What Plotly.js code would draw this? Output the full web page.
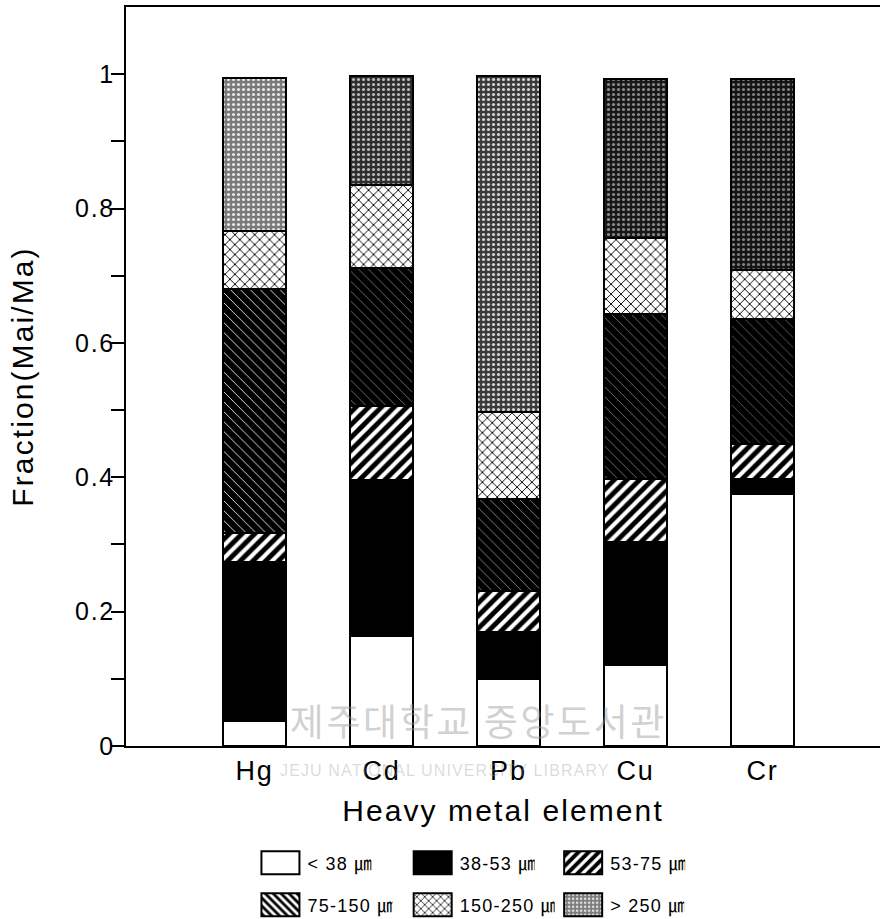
<!DOCTYPE html>
<html>
<head>
<meta charset="utf-8">
<script src="https://cdn.plot.ly/plotly-3.0.1.min.js"></script>
<style>
  html, body { margin: 0; padding: 0; background: #fff; }
  #chart { width: 880px; height: 919px; }
  #chart .main-svg text { letter-spacing: 0.07em; }
</style>
</head>
<body>
<div id="chart"></div>
<script>
// Heavy metal fractions by particle size class (each column sums to ~1)
const elements = ['Hg', 'Cd', 'Pb', 'Cu', 'Cr'];
const under38   = [0.037, 0.163, 0.100, 0.121, 0.375];
const s38to53   = [0.237, 0.233, 0.070, 0.183, 0.023];
const s53to75   = [0.043, 0.110, 0.060, 0.094, 0.052];
const s75to150  = [0.363, 0.206, 0.138, 0.245, 0.186];
const s150to250 = [0.087, 0.123, 0.129, 0.113, 0.072];
const over250   = [0.228, 0.163, 0.501, 0.237, 0.285];

const sizeLabels = ['< 38 ㎛', '38-53 ㎛', '53-75 ㎛', '75-150 ㎛', '150-250 ㎛', '> 250 ㎛'];
const yTicks = [0, 0.2, 0.4, 0.6, 0.8, 1];
const yMinorTicks = [0.1, 0.3, 0.5, 0.7, 0.9];
const yTickText = ['0', '0.2', '0.4', '0.6', '0.8', '1'];

const FONT = 'Liberation Sans, Arial, Helvetica, Noto Sans CJK KR, sans-serif';
const outline = { color: '#000', width: 2 };

function seg(values, name, legendId, marker) {
  return {
    type: 'bar', x: elements, y: values, name: name, legend: legendId,
    marker: Object.assign({ line: outline }, marker),
    hoverinfo: 'x+y+name'
  };
}

const traces = [
  seg(under38, sizeLabels[0], 'legend', { color: '#fff' }),
  seg(s38to53, sizeLabels[1], 'legend2', { color: '#000' }),
  seg(s53to75, sizeLabels[2], 'legend3', {
    color: '#000',
    pattern: { shape: '/', bgcolor: '#000', fgcolor: '#fff', size: 9, solidity: 0.45 }
  }),
  seg(s75to150, sizeLabels[3], 'legend4', {
    color: '#000',
    pattern: { shape: '\\', bgcolor: '#000', fgcolor: '#fff', size: 7,
               solidity: [0.12, 0.06, 0.07, 0.06, 0.05] }
  }),
  seg(s150to250, sizeLabels[4], 'legend5', {
    color: '#fff',
    pattern: { shape: 'x', bgcolor: '#fff', fgcolor: '#000', size: 7, solidity: 0.25 }
  }),
  seg(over250, sizeLabels[5], 'legend6', {
    color: '#444',
    pattern: { shape: '.', bgcolor: ['#7a7a7a', '#2e2e2e', '#3c3c3c', '#181818', '#141414'],
               fgcolor: ['#e8e8e8', '#bbbbbb', '#d6d6d6', '#8a8a8a', '#808080'],
               size: 5, solidity: 0.3 }
  })
];

// Legend boxes: two rows of three entries, placed on the page (container units)
function legendAt(x, y) {
  return {
    xref: 'container', yref: 'container',
    x: x, y: y, xanchor: 'left', yanchor: 'middle',
    orientation: 'h', itemwidth: 44, bgcolor: 'rgba(0,0,0,0)', borderwidth: 0,
    font: { family: FONT, size: 18, color: '#000' }, itemclick: false, itemdoubleclick: false
  };
}
const colX = [0.288, 0.461, 0.632];
const rowY = [0.0609, 0.0152];

const layout = {
  width: 880, height: 919,
  margin: { l: 126, r: 0, t: 7, b: 173 },
  paper_bgcolor: '#fff', plot_bgcolor: '#fff',
  barmode: 'stack', bargap: 0.5,
  font: { family: FONT, color: '#000' },
  showlegend: true,
  xaxis: {
    type: 'category', range: [-1.012, 4.925], fixedrange: true,
    showline: true, linecolor: '#000', linewidth: 2, mirror: true,
    ticks: '', showgrid: false, zeroline: false,
    tickfont: { family: FONT, size: 27, color: '#000' },
    title: { text: 'Heavy metal element', font: { family: FONT, size: 30, color: '#000' }, standoff: 15 }
  },
  xaxis2: {
    overlaying: 'x', anchor: 'y', type: 'linear', range: [-1.012, 4.925], fixedrange: true,
    tickmode: 'array', tickvals: [-1.012, 0.5, 1.5, 2.5, 3.5],
    ticks: 'outside', ticklen: 12, tickwidth: 2, tickcolor: '#000',
    showticklabels: false, showline: false, showgrid: false, zeroline: false
  },
  yaxis: {
    range: [0, 1.1], fixedrange: true,
    showline: true, linecolor: '#000', linewidth: 2,
    showgrid: false, zeroline: false,
    tickmode: 'array', tickvals: yTicks, ticktext: yTickText,
    ticks: 'outside', ticklen: 13, tickwidth: 2, tickcolor: '#000',
    ticklabelstandoff: -9,
    minor: { tickmode: 'array', tickvals: yMinorTicks, ticks: 'outside', ticklen: 13, tickwidth: 2, tickcolor: '#000' },
    tickfont: { family: FONT, size: 25, color: '#000' },
    title: { text: 'Fraction(Mai/Ma)', font: { family: FONT, size: 30, color: '#000' }, standoff: 38 }
  },
  legend:  legendAt(colX[0], rowY[0]),
  legend2: legendAt(colX[1], rowY[0]),
  legend3: legendAt(colX[2], rowY[0]),
  legend4: legendAt(colX[0], rowY[1]),
  legend5: legendAt(colX[1], rowY[1]),
  legend6: legendAt(colX[2], rowY[1]),
  annotations: [
    { xref: 'paper', yref: 'paper', x: 0.468, y: 0.035, xanchor: 'center', yanchor: 'middle',
      showarrow: false, text: '제주대학교 중앙도서관',
      font: { family: 'Noto Sans CJK KR, sans-serif', size: 37, color: 'rgba(150,150,150,0.45)' } },
    { xref: 'paper', yref: 'paper', x: 0.423, y: -0.033, xanchor: 'center', yanchor: 'middle',
      showarrow: false, text: 'JEJU NATIONAL UNIVERSITY LIBRARY',
      font: { family: FONT, size: 16, color: 'rgba(150,150,150,0.35)' } }
  ]
};

const gd = document.getElementById('chart');

// Wider rectangular legend swatches
function widenSwatches() {
  gd.querySelectorAll('.legendpoints path').forEach(function (p) {
    p.setAttribute('d', 'M19,11.5H-19V-11.5H19Z');
    p.style.stroke = '#000';
    p.style.strokeWidth = '2px';
  });
}

Plotly.newPlot(gd, traces, layout, { displayModeBar: false, staticPlot: true }).then(function () {
  widenSwatches();
  gd.on && gd.on('plotly_afterplot', widenSwatches);
});
</script>
</body>
</html>
